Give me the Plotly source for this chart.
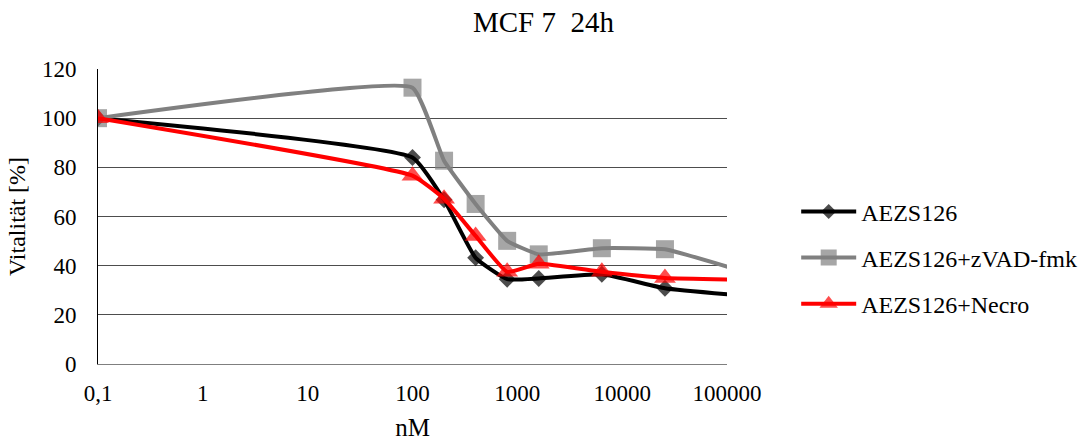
import plotly.graph_objects as go

# Concentrations (nM) and viability (%) per treatment
conc_nm = [0.1, 100, 200, 400, 800, 1600, 6400, 25600, 102400]
aezs126 = [100, 84, 66.8, 43.2, 34.5, 34.8, 36.5, 30.8, 28.3]
aezs126_zvad = [100, 112.4, 82.7, 65.1, 50.1, 44.6, 47.1, 46.7, 39.5]
aezs126_necro = [100, 76.6, 67.2, 52.1, 37.5, 40.8, 37.5, 35.0, 34.4]

x_tick_vals = [0.1, 1, 10, 100, 1000, 10000, 100000]
x_tick_text = ["0,1", "1", "10", "100", "1000", "10000", "100000"]
y_tick_vals = [0, 20, 40, 60, 80, 100, 120]

FONT = "Times New Roman, Liberation Serif, serif"
FS = 23

# last concentration lies past the axis end: keep its line, hide its marker
def marker_sizes(size):
    return [size] * (len(conc_nm) - 1) + [0]

series = [
    ("AEZS126", aezs126, "#000000", "diamond", 13, 0.4),
    ("AEZS126+zVAD-fmk", aezs126_zvad, "#808080", "square", 18, 0.35),
    ("AEZS126+Necro", aezs126_necro, "#ff0000", "triangle-up", 19, 0.4),
]

fig = go.Figure()
for i, (name, vals, color, symbol, size, smooth) in enumerate(series):
    fig.add_trace(go.Scatter(
        x=conc_nm, y=vals, name=name, mode="lines+markers",
        legendgroup=f"g{i}",
        line=dict(color=color, width=4, shape="spline", smoothing=smooth),
        marker=dict(symbol=symbol, size=marker_sizes(size), color=color,
                    line=dict(width=0)),
    ))

tick_font = dict(family=FONT, size=FS, color="black")

fig.update_layout(
    width=1087, height=441,
    margin=dict(l=98, r=360, t=69, b=77, autoexpand=False),
    paper_bgcolor="white", plot_bgcolor="white",
    font=dict(family=FONT, size=FS, color="black"),
    title=dict(text="MCF 7\u00a0 24h", x=0.5, xanchor="center", y=0.95,
               yanchor="middle", font=dict(family=FONT, size=29)),
    legend=dict(x=1.11, xanchor="left", y=0.36, yanchor="middle",
                font=dict(family=FONT, size=24, color="black"), itemwidth=55,
                tracegroupgap=12, bgcolor="rgba(0,0,0,0)"),
    showlegend=True,
)

fig.update_xaxes(
    type="log", range=[-1, 5], automargin=False,
    tickvals=x_tick_vals, ticktext=x_tick_text, tickfont=tick_font,
    showgrid=False, zeroline=False,
    showline=True, linecolor="#7f7f7f", linewidth=1,
    ticks="outside", ticklen=8, tickcolor="rgba(0,0,0,0)",
    title=dict(text="nM", standoff=16, font=dict(family=FONT, size=25)),
)
fig.update_yaxes(
    range=[0, 120], tickvals=y_tick_vals, automargin=False, tickfont=tick_font,
    showgrid=True, gridcolor="#4d4d4d", gridwidth=1,
    zeroline=False,
    showline=True, linecolor="#000000", linewidth=1,
    ticks="outside", ticklen=16, tickcolor="rgba(0,0,0,0)",
    title=dict(text="Vitalität [%]", standoff=9, font=dict(family=FONT, size=24)),
)

fig.write_html("out.html")
